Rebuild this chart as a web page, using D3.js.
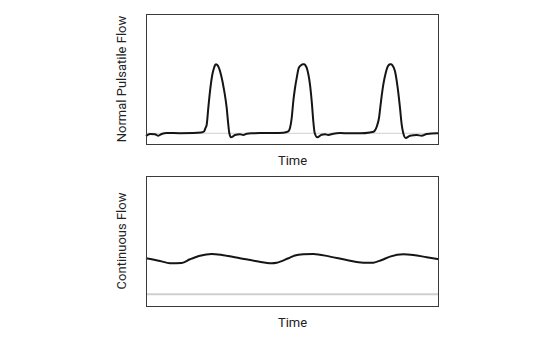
<!DOCTYPE html>
<html>
<head>
<meta charset="utf-8">
<script src="https://cdn.jsdelivr.net/npm/d3@7"></script>
<style>
  html, body { margin: 0; padding: 0; background: #fff; }
  svg { display: block; }
  text { font-family: Roboto, "Liberation Sans", sans-serif; font-size: 13px; fill: #222; }
</style>
</head>
<body>
<svg id="chart" width="553" height="343"></svg>
<script>
// Time (s) and flow (relative units, baseline = 0)
const pulsatileTime = [0, 0.04, 0.09, 0.123, 0.157, 0.207, 0.34, 0.473, 0.55, 0.58, 0.595, 0.607, 0.623, 0.64, 0.663, 0.68, 0.69, 0.70, 0.71, 0.725, 0.75, 0.783, 0.807, 0.823, 0.833, 0.85, 0.87, 0.89, 0.94, 0.973, 1.007, 1.073, 1.14, 1.273, 1.373, 1.423, 1.44, 1.457, 1.473, 1.49, 1.507, 1.527, 1.55, 1.57, 1.58, 1.593, 1.613, 1.64, 1.66, 1.673, 1.687, 1.713, 1.757, 1.79, 1.823, 1.873, 1.94, 2.04, 2.14, 2.24, 2.28, 2.307, 2.33, 2.35, 2.373, 2.397, 2.42, 2.44, 2.45, 2.463, 2.49, 2.517, 2.54, 2.557, 2.573, 2.597, 2.64, 2.707, 2.757, 2.807, 2.907, 2.93];
const pulsatileFlow = [-0.04, -0.01, -0.015, -0.035, -0.01, 0.004, 0.002, 0.004, 0.01, 0.026, 0.077, 0.124, 0.366, 0.607, 0.847, 0.944, 0.985, 1.0, 0.99, 0.96, 0.847, 0.607, 0.366, 0.124, 0.004, -0.058, -0.046, -0.025, -0.015, -0.025, -0.006, 0, 0.004, 0.004, 0.009, 0.029, 0.077, 0.221, 0.463, 0.655, 0.80, 0.944, 0.985, 0.998, 1.0, 0.985, 0.92, 0.703, 0.414, 0.174, 0.004, -0.058, -0.02, -0.015, -0.025, -0.006, 0.004, 0, 0, 0.012, 0.026, 0.095, 0.221, 0.463, 0.703, 0.872, 0.973, 0.998, 1.0, 0.985, 0.897, 0.655, 0.366, 0.124, 0, -0.068, -0.035, -0.025, -0.035, -0.01, 0, 0];

const continuousTime = [0, 0.14, 0.24, 0.357, 0.44, 0.54, 0.657, 0.773, 0.94, 1.107, 1.257, 1.307, 1.425, 1.49, 1.573, 1.673, 1.84, 2.007, 2.173, 2.273, 2.357, 2.44, 2.573, 2.673, 2.807, 2.93];
const continuousFlow = [0.521, 0.482, 0.448, 0.453, 0.506, 0.558, 0.583, 0.564, 0.521, 0.477, 0.448, 0.455, 0.521, 0.561, 0.578, 0.583, 0.544, 0.496, 0.457, 0.457, 0.496, 0.544, 0.578, 0.568, 0.535, 0.506];

const timeDomain = [0, 2.93];
const topFlowDomain = [-0.155, 1.725];
const bottomFlowDomain = [-0.17, 1.71];
const panelLabels = ["Normal Pulsatile Flow", "Continuous Flow"];
const xLabel = "Time";

const svg = d3.select("#chart");
const left = 146, right = 439, panelH = 130;
const panels = [
  { top: 14, time: pulsatileTime, flow: pulsatileFlow, domain: topFlowDomain, label: panelLabels[0], baseW: 1 },
  { top: 176, time: continuousTime, flow: continuousFlow, domain: bottomFlowDomain, label: panelLabels[1], baseW: 2 }
];

const x = d3.scaleLinear().domain(timeDomain).range([left, right]);

panels.forEach(p => {
  const y = d3.scaleLinear().domain(p.domain).range([p.top + panelH, p.top]);
  const g = svg.append("g");

  // baseline (zero flow)
  g.append("line")
    .attr("x1", x(timeDomain[0])).attr("x2", x(timeDomain[1]))
    .attr("y1", y(0)).attr("y2", y(0))
    .attr("stroke", "#cfcfcf").attr("stroke-width", p.baseW);

  const data = p.time.map((t, i) => [t, p.flow[i]]);
  const line = d3.line()
    .x(d => x(d[0])).y(d => y(d[1]))
    .curve(d3.curveMonotoneX);
  g.append("path").datum(data)
    .attr("d", line)
    .attr("fill", "none")
    .attr("stroke", "#151515")
    .attr("stroke-width", 2)
    .attr("stroke-linejoin", "round");

  // frame
  g.append("rect")
    .attr("x", left + 0.5).attr("y", p.top + 0.5)
    .attr("width", right - left - 1).attr("height", panelH)
    .attr("fill", "none").attr("stroke", "#3a3a3a").attr("stroke-width", 1);

  // x label
  g.append("text")
    .attr("x", (left + right) / 2).attr("y", p.top + panelH + 21)
    .attr("text-anchor", "middle")
    .text(xLabel);

  // y label
  g.append("text")
    .attr("transform", `translate(${126}, ${p.top + panelH / 2}) rotate(-90)`)
    .attr("text-anchor", "middle")
    .text(p.label);
});
</script>
</body>
</html>
